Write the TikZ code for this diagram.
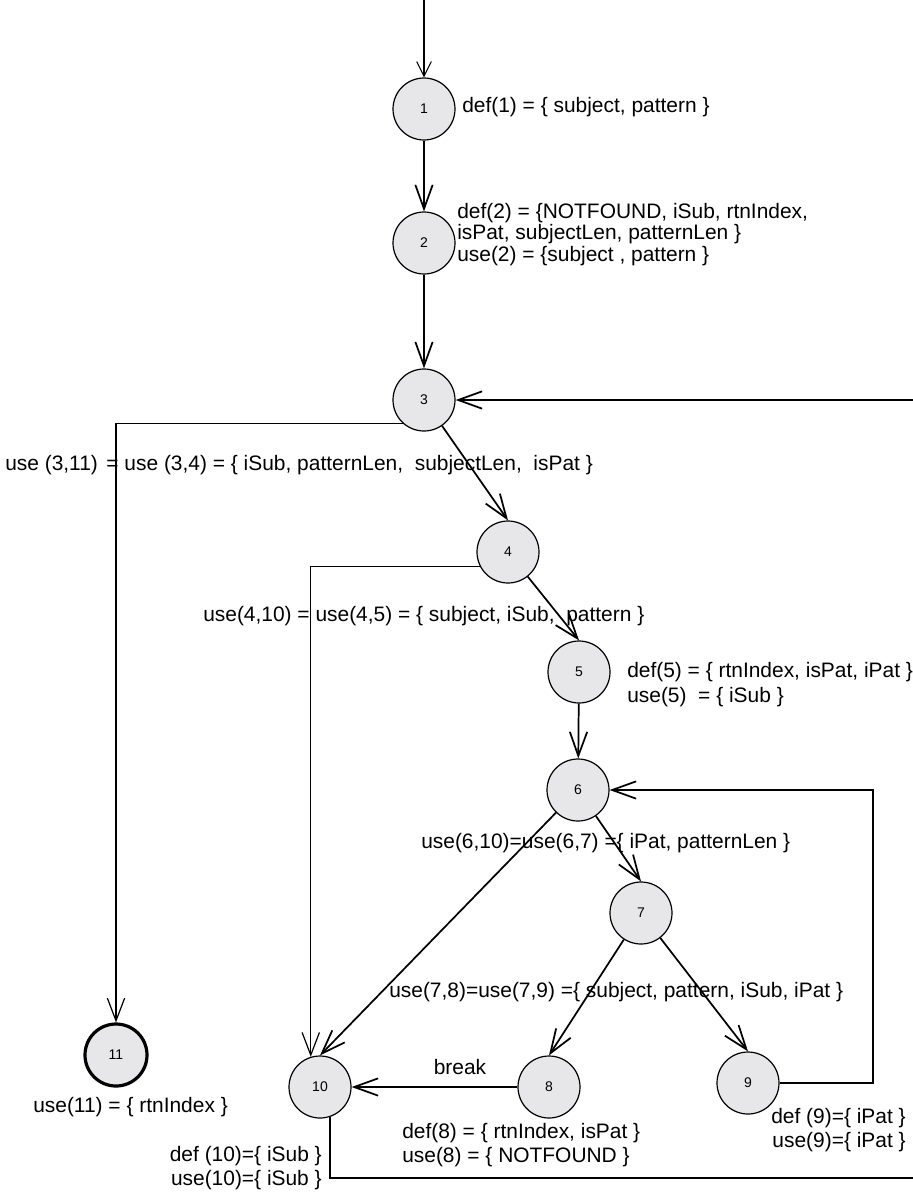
\documentclass[tikz,border=0pt]{standalone}
\usepackage{fontspec}
\setmainfont{Liberation Sans}
\usetikzlibrary{arrows.meta}
\definecolor{nodegray}{RGB}{231,231,233}
\begin{document}
\begin{tikzpicture}[x=0.75pt,y=-0.75pt,
  st/.style={circle,draw=black,line width=0.9pt,fill=nodegray,minimum size=46.5pt,inner sep=0pt,font=\fontsize{10.5}{12}\selectfont},
  fin/.style={st,line width=2.4pt},
  edge/.style={line width=1.3pt,-{Straight Barb[length=18pt,width=13pt]}},
  thinedge/.style={line width=0.9pt,-{Straight Barb[length=17pt,width=13pt]}},
  startedge/.style={line width=0.8pt,-{Straight Barb[length=11pt,width=11pt]}},
  lbl/.style={font=\fontsize{15.7}{17}\selectfont,inner sep=0pt}]
\useasboundingbox (0,0) rectangle (913,1196);
\clip (0,0) rectangle (913,1196);

% nodes
\node[st] (n1) at (424,109) {1};
\node[st] (n2) at (424,243) {2};
\node[st] (n3) at (424,400) {3};
\node[st] (n4) at (508,552) {4};
\node[st] (n5) at (579,672) {5};
\node[st] (n6) at (578,790) {6};
\node[st] (n7) at (641,913) {7};
\node[st] (n8) at (549,1087) {8};
\node[st] (n9) at (748,1083) {9};
\node[st] (n10) at (320,1087) {10};
\node[fin] (n11) at (116,1055) {11};

\coordinate (s) at (424,0);
\coordinate (c9) at (873,1083);
\coordinate (c10) at (960,1178);

% connectors
\draw[startedge] (s) -- (n1);
\draw[edge] (n1) -- (n2);
\draw[edge] (n2) -- (n3);
\draw[edge] (n3) -- (n4.north);
\draw[edge] (n4) -- (n5.north);
\draw[edge] (n5) -- (n6);
\draw[edge] (n6) -- (n7.north);
\draw[edge] (n6) -- (n10.north);
\draw[edge] (n7) -- (n8.north);
\draw[edge] (n7) -- (n9.north);
\draw[edge] (n8) -- (n10);
\draw[edge] (n9) -- (c9) |- (n6);
\draw[thinedge] (n3.228) -| (n11);
\draw[thinedge] (n4.207) -| (n10.107);
\draw[edge] (n10.289) |- (c10) |- (n3);

% labels
\node[lbl,anchor=west] (t1) at (462,107) {def(1) = \{ subject, pattern \}};
\node[lbl,anchor=west] (t2a) at (457,213) {def(2) = \{NOTFOUND, iSub, rtnIndex,};
\node[lbl,anchor=west] (t2b) at (457,234) {isPat, subjectLen, patternLen \}};
\node[lbl,anchor=west] (t2c) at (457,256) {use(2) = \{subject , pattern \}};
\node[lbl,anchor=west] (t3) at (5,465) {use (3,11)\hspace{2pt} = use (3,4) = \{ iSub, patternLen,\ \ subjectLen,\ \ isPat \}};
\node[lbl,anchor=west] (t4) at (203,616) {use(4,10) = use(4,5) = \{ subject, iSub,\ \ pattern \}};
\node[lbl,anchor=west] (t5a) at (627,672) {def(5) = \{ rtnIndex, isPat, iPat \}};
\node[lbl,anchor=west] (t5b) at (627,697) {use(5)\ \ = \{ iSub \}};
\node[lbl,anchor=west] (t6) at (421,843) {use(6,10)=use(6,7) =\{ iPat, patternLen \}};
\node[lbl,anchor=west] (t7) at (389,992) {use(7,8)=use(7,9) =\{ subject, pattern, iSub, iPat \}};
\node[lbl] (tb) at (460,1067) {break};
\node[lbl,anchor=west] (t8a) at (402,1133) {def(8) = \{ rtnIndex, isPat \}};
\node[lbl,anchor=west] (t8b) at (402,1157) {use(8) = \{ NOTFOUND \}};
\node[lbl,anchor=east] (t10a) at (322,1156) {def (10)=\{ iSub \}};
\node[lbl,anchor=east] (t10b) at (322,1180) {use(10)=\{ iSub \}};
\node[lbl,anchor=west] (t11) at (33,1107) {use(11) = \{ rtnIndex \}};
\node[lbl,anchor=east] (t9a) at (906,1118) {def (9)=\{ iPat \}};
\node[lbl,anchor=east] (t9b) at (906,1142) {use(9)=\{ iPat \}};
\end{tikzpicture}
\end{document}
